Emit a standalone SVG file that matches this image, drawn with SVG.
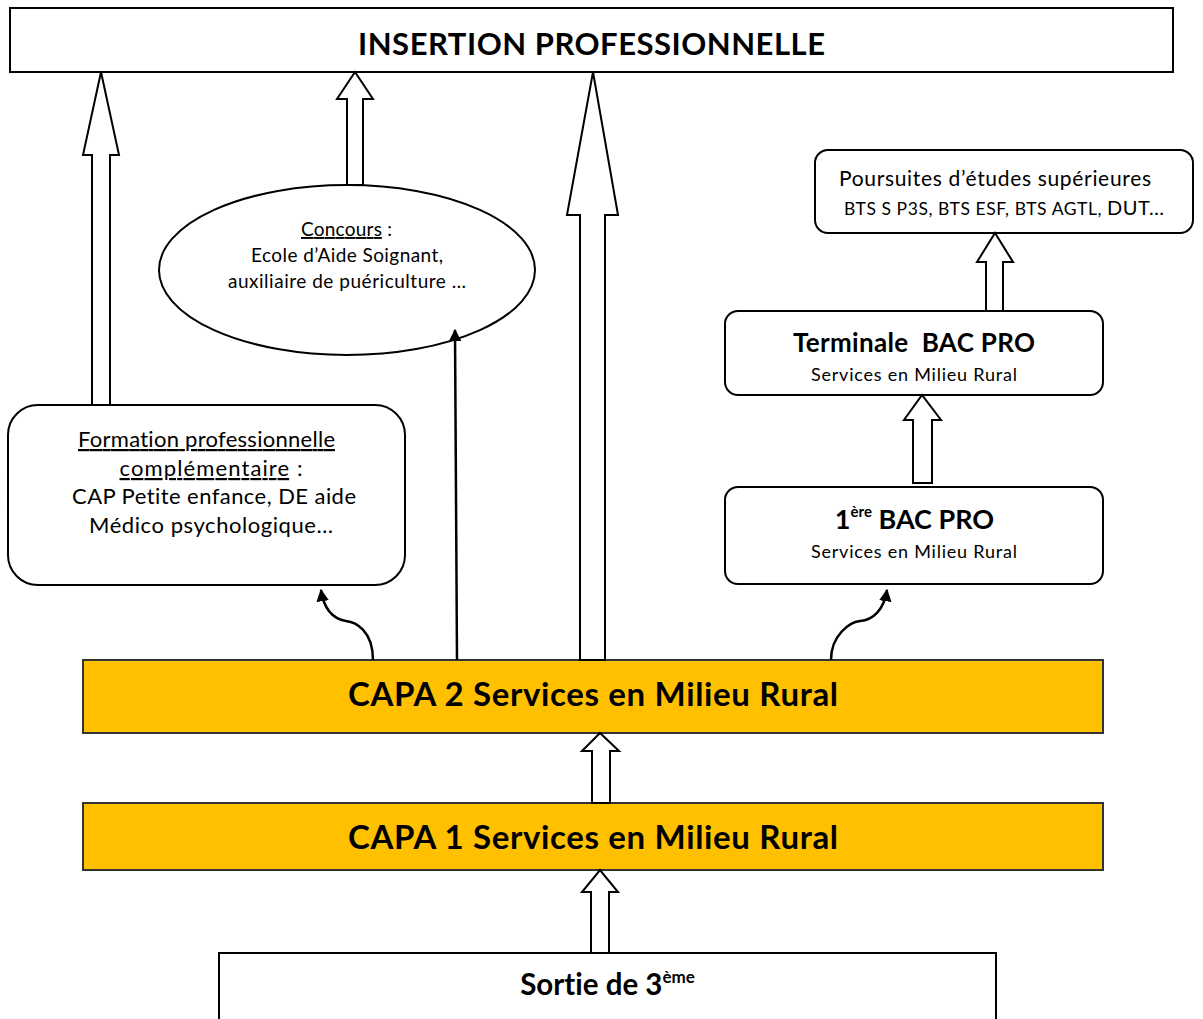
<svg xmlns="http://www.w3.org/2000/svg" width="1203" height="1019" viewBox="0 0 1203 1019">
<style>
text{font-family:Lato,"Open Sans","Liberation Sans",sans-serif;fill:#000;text-anchor:middle;font-variant-ligatures:none}
.box{fill:#fff;stroke:#000;stroke-width:2}
.capa{fill:#FFC000;stroke:#333;stroke-width:2}
.fat{fill:#fff;stroke:#000;stroke-width:2;stroke-linejoin:miter}
.thin{fill:none;stroke:#000;stroke-width:2.5}
.b{font-weight:bold}
.u{text-decoration:underline}
</style>
<defs>
<marker id="ah" viewBox="0 0 10 10" refX="9" refY="5" markerWidth="5" markerHeight="5" orient="auto" markerUnits="strokeWidth">
<path d="M0,0 L10,5 L0,10 z" fill="#000"/>
</marker>
</defs>
<rect width="1203" height="1019" fill="#fff"/>

<g id="insertion">
<rect class="box" x="10" y="8" width="1163" height="64"/>
<text class="b" x="591.5" y="55" font-size="31" textLength="467">INSERTION PROFESSIONNELLE</text>
</g>

<g id="concours">
<ellipse class="box" cx="347" cy="270" rx="188" ry="85"/>
<text x="346.5" y="236" font-size="19" textLength="91"><tspan class="u">Concours</tspan> :</text>
<text x="347" y="262" font-size="19" textLength="192">Ecole d’Aide Soignant,</text>
<text x="347" y="288" font-size="19" textLength="238">auxiliaire de puériculture …</text>
</g>

<g id="poursuites">
<rect class="box" x="815" y="150" width="378" height="83" rx="13"/>
<text x="995" y="186" font-size="21" textLength="312">Poursuites d’études supérieures</text>
<text x="1004" y="215" font-size="17.5" textLength="320">BTS S P3S, BTS ESF, BTS AGTL, <tspan font-size="20">DUT…</tspan></text>
</g>

<g id="terminale">
<rect class="box" x="725" y="311" width="378" height="84" rx="13"/>
<text class="b" x="914" y="352" font-size="26" textLength="242" xml:space="preserve">Terminale  BAC PRO</text>
<text x="914" y="381" font-size="18" textLength="206">Services en Milieu Rural</text>
</g>

<g id="premiere">
<rect class="box" x="725" y="487" width="378" height="97" rx="13"/>
<text class="b" x="914.5" y="529" font-size="27">1<tspan font-size="15" dy="-12">ère</tspan><tspan dy="12"> BAC PRO</tspan></text>
<text x="914" y="558" font-size="18" textLength="206">Services en Milieu Rural</text>
</g>

<g id="formation">
<rect class="box" x="8" y="405" width="397" height="180" rx="30"/>
<text x="206.5" y="447" font-size="22" textLength="257"><tspan class="u">Formation professionnelle</tspan></text>
<text x="211" y="476" font-size="22" textLength="183"><tspan class="u">complémentaire</tspan> :</text>
<text x="214" y="504" font-size="22" textLength="284">CAP Petite enfance, DE aide</text>
<text x="211" y="533" font-size="22" textLength="244">Médico psychologique…</text>
</g>

<g id="capa2">
<rect class="capa" x="83" y="660" width="1020" height="73"/>
<text class="b" x="593" y="706" font-size="33" textLength="490">CAPA 2 Services en Milieu Rural</text>
</g>

<g id="capa1">
<rect class="capa" x="83" y="803" width="1020" height="67"/>
<text class="b" x="593" y="849" font-size="33" textLength="490">CAPA 1 Services en Milieu Rural</text>
</g>

<g id="sortie">
<rect class="box" x="219" y="953" width="777" height="80"/>
<text class="b" x="607.5" y="995" font-size="29.5">Sortie de 3<tspan font-size="17" dy="-12">ème</tspan></text>
</g>

<g id="connectors">
<path class="fat" d="M92,405 V155 H83 L101,72 L119,155 H110 V405 Z"/>
<path class="fat" d="M347,185 V99 H337 L355,72 L373,99 H363 V185 Z"/>
<path class="fat" d="M580,660 V215 H567 L593,72 L618,215 H605 V660 Z"/>
<path class="fat" d="M986,311 V262 H977 L995,233 L1013,262 H1003 V311 Z"/>
<path class="fat" d="M913,483 V420 H904 L922,395 L941,420 H932 V483 Z"/>
<path class="fat" d="M592,803 V751 H582 L600,733 L619,751 H610 V803 Z"/>
<path class="fat" d="M591,953 V892 H582 L600,870 L618,892 H609 V953 Z"/>
<path class="thin" d="M457,660 L455,330" marker-end="url(#ah)"/>
<path class="thin" d="M373,660 C373,630 355,622 346,621 C334,619 324,610 321,590" marker-end="url(#ah)"/>
<path class="thin" d="M831,660 C831,635 850,622 860,621 C873,620 884,610 887,590" marker-end="url(#ah)"/>
</g>
</svg>
